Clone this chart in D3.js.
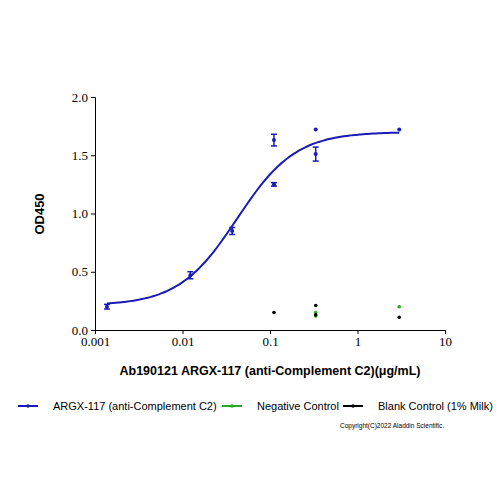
<!DOCTYPE html>
<html><head><meta charset="utf-8">
<script src="https://cdn.jsdelivr.net/npm/d3@7.9.0/dist/d3.min.js"></script>
<style>body{margin:0;background:#fff}</style>
</head><body>
<svg id="chart" width="500" height="500"></svg>
<script>
// Data
const conc = [0.00137, 0.0123, 0.037, 0.111, 0.111, 0.333, 0.333, 3.0];
const odMean = [0.20, 0.47, 0.85, 1.63, 1.25, 1.51, 1.72, 1.72];
const odErr = [0.02, 0.03, 0.03, 0.05, 0.015, 0.06, 0, 0];
const negConc = [0.333, 0.333, 3.0];
const negOD = [0.15, 0.12, 0.20];
const blankConc = [0.111, 0.333, 0.333, 3.0];
const blankOD = [0.15, 0.21, 0.13, 0.11];
// 4PL fit parameters: bottom, top, EC50, hill
const fit = { bottom: 0.21, top: 1.70, ec50: 0.042, hill: 1.3 };
const xTicks = [0.001, 0.01, 0.1, 1, 10];
const yTicks = [0, 0.5, 1.0, 1.5, 2.0];

const svg = d3.select("#chart");
const x = d3.scaleLog().domain([0.001, 10]).range([95, 445]);
const y = d3.scaleLinear().domain([0, 2]).range([330, 97]);
const blue = "#1a1ab4", green = "#22aa22";

svg.append("g").attr("transform", "translate(0,330)")
  .call(d3.axisBottom(x).tickValues(xTicks).tickFormat(d => String(d)).tickSizeOuter(0).tickSize(4))
  .call(g => g.selectAll("text").attr("font-family", "Liberation Serif").attr("font-size", 13).attr("fill", "#000"));
svg.append("g").attr("transform", "translate(95,0)")
  .call(d3.axisLeft(y).tickValues(yTicks).tickFormat(d3.format(".1f")).tickSizeOuter(0).tickSize(4))
  .call(g => g.selectAll("text").attr("font-family", "Liberation Serif").attr("font-size", 13).attr("fill", "#000"));

svg.append("text").attr("transform", "translate(44,214) rotate(-90)").attr("text-anchor", "middle")
  .attr("font-family", "Liberation Sans").attr("font-weight", "bold").attr("font-size", 13).text("OD450");
svg.append("text").attr("x", 270).attr("y", 375).attr("text-anchor", "middle")
  .attr("font-family", "Liberation Sans").attr("font-weight", "bold").attr("font-size", 12.5)
  .text("Ab190121 ARGX-117 (anti-Complement C2)(μg/mL)");

// fitted curve
const curveX = d3.range(0, 101).map(i => Math.pow(10, Math.log10(0.00137) + i / 100 * (Math.log10(3) - Math.log10(0.00137))));
const f = c => fit.bottom + (fit.top - fit.bottom) / (1 + Math.pow(fit.ec50 / c, fit.hill));
svg.append("path").datum(curveX)
  .attr("d", d3.line().x(d => x(d)).y(d => y(f(d))).curve(d3.curveBasis))
  .attr("fill", "none").attr("stroke", blue).attr("stroke-width", 2);

// error bars and points
conc.forEach((c, i) => {
  const cx = x(c), e = odErr[i];
  if (e > 0) {
    svg.append("line").attr("x1", cx).attr("x2", cx).attr("y1", y(odMean[i] - e)).attr("y2", y(odMean[i] + e)).attr("stroke", blue).attr("stroke-width", 1.5);
    [odMean[i] - e, odMean[i] + e].forEach(v => svg.append("line").attr("x1", cx - 3).attr("x2", cx + 3).attr("y1", y(v)).attr("y2", y(v)).attr("stroke", blue).attr("stroke-width", 1.5));
  }
  svg.append("circle").attr("cx", cx).attr("cy", y(odMean[i])).attr("r", 2).attr("fill", blue);
});
negConc.forEach((c, i) => svg.append("circle").attr("cx", x(c)).attr("cy", y(negOD[i])).attr("r", 1.8).attr("fill", green));
blankConc.forEach((c, i) => svg.append("circle").attr("cx", x(c)).attr("cy", y(blankOD[i])).attr("r", 1.8).attr("fill", "#000"));

// legend
const legend = [
  { label: "ARGX-117 (anti-Complement C2)", color: blue, x: 18 },
  { label: "Negative Control", color: green, x: 222 },
  { label: "Blank Control (1% Milk)", color: "#000", x: 343 }
];
legend.forEach(d => {
  svg.append("line").attr("x1", d.x).attr("x2", d.x + 20).attr("y1", 406).attr("y2", 406).attr("stroke", d.color).attr("stroke-width", 2);
  svg.append("circle").attr("cx", d.x + 10).attr("cy", 406).attr("r", 1.8).attr("fill", d.color);
  svg.append("text").attr("x", d.x + 35).attr("y", 410).attr("font-family", "Liberation Sans").attr("font-size", 11).text(d.label);
});
svg.append("text").attr("x", 340).attr("y", 428).attr("font-family", "Liberation Sans").attr("font-size", 6.5).text("Copyright(C)2022 Aladdin Scientific.");
</script>
</body></html>
